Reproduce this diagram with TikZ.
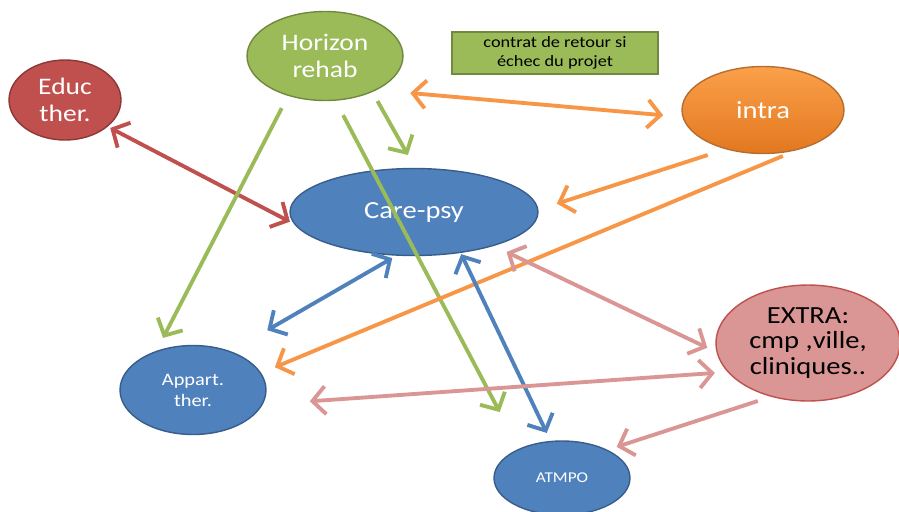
\documentclass[tikz,border=0pt]{standalone}
\usepackage{fontspec}
\setmainfont{Carlito}[FakeStretch=1.16]
\usepackage{tikz}
\usetikzlibrary{arrows.meta,shapes.geometric}
\definecolor{rehabgreen}{HTML}{9BBB59}
\definecolor{rehabline}{HTML}{71893F}
\definecolor{educred}{HTML}{C0504D}
\definecolor{educline}{HTML}{8C3836}
\definecolor{careblue}{HTML}{4F81BD}
\definecolor{careline}{HTML}{385D8A}
\definecolor{intratop}{HTML}{FBA04A}
\definecolor{intrabot}{HTML}{E2781F}
\definecolor{intraline}{HTML}{B66D31}
\definecolor{intraorange}{HTML}{F79646}
\definecolor{extrapink}{HTML}{D99694}
\definecolor{extraline}{HTML}{C0504D}

\begin{document}
\begin{tikzpicture}[x=0.02cm, y=-0.02cm,
  blob/.style={ellipse, draw, line width=0.8pt, inner sep=0pt, outer sep=0pt,
    align=center, text=white},
  link/.style={line width=2.2pt,
    {Straight Barb[length=2.6mm,width=5.6mm]}-{Straight Barb[length=2.6mm,width=5.6mm]}},
  tolink/.style={line width=2.2pt, -{Straight Barb[length=2.6mm,width=5.6mm]}},
]
  \useasboundingbox (0,0) rectangle (899,511);

  \node[blob, fill=rehabgreen, draw=rehabline, minimum width=3.12cm, minimum height=1.78cm,
    font=\fontsize{13.5}{15.5}\selectfont] (horizon) at (325,56) {Horizon\\rehab};
  \node[blob, fill=educred, draw=educline, minimum width=2.24cm, minimum height=1.6cm,
    font=\fontsize{13.5}{15.5}\selectfont] (educ) at (65,100) {Educ\\ther.};
  \node[blob, fill=careblue, draw=careline, minimum width=4.96cm, minimum height=1.74cm,
    font=\fontsize{14}{16}\selectfont] (care) at (414,212) {Care-psy};
  \node[rectangle, draw=rehabline, line width=0.8pt, fill=rehabgreen, minimum width=4.12cm,
    minimum height=0.84cm, inner sep=0pt, align=center, font=\fontsize{9}{11}\selectfont]
    (contrat) at (555,53) {contrat de retour si\\échec du projet};
  \node[blob, top color=intratop, bottom color=intrabot, draw=intraline, minimum width=3.24cm,
    minimum height=1.74cm, font=\fontsize{14}{16}\selectfont] (intra) at (763,110) {intra};
  \node[blob, fill=careblue, draw=careline, minimum width=2.92cm, minimum height=1.78cm,
    font=\fontsize{10}{12}\selectfont] (appart) at (193,390) {Appart.\\ther.};
  \node[blob, fill=extrapink, draw=extraline, text=black, minimum width=3.68cm,
    minimum height=2.32cm, font=\fontsize{14}{14.5}\selectfont] (extra) at (808,343)
    {EXTRA:\\cmp ,ville,\\cliniques..};
  \node[blob, fill=careblue, draw=careline, minimum width=2.72cm, minimum height=1.48cm,
    font=\fontsize{8.5}{10}\selectfont] (atmpo) at (562,478) {ATMPO};

  \draw[link, educred, shorten <=0.07cm, shorten >=0.12cm] (educ.-32) -- (care.186);
  \draw[tolink, rehabgreen, shorten <=0.29cm, shorten >=0.31cm] (horizon.227) -- (appart.134);
  \draw[tolink, rehabgreen, shorten <=0.34cm, shorten >=0.84cm] (horizon.-77) -- (atmpo.146);
  \draw[tolink, rehabgreen, shorten <=0.22cm, shorten >=0.31cm] (horizon.-37) -- (care.88);
  \draw[link, intraorange, shorten <=0.7cm, shorten >=0.4cm] (horizon.-34) -- (intra.185);
  \draw[tolink, intraorange, shorten <=0.4cm, shorten >=0.4cm] (intra.227) -- (care.1);
  \draw[tolink, intraorange, shorten <=0.4cm, shorten >=0.31cm] (intra.-45) -- (appart.14);
  \draw[link, careblue, shorten <=0.12cm, shorten >=0.86cm] (care.249) -- (appart.46);
  \draw[link, careblue, shorten <=0.04cm, shorten >=0.19cm] (care.-41) -- (atmpo.107);
  \draw[link, extrapink, shorten <=0.3cm, shorten >=0.22cm] (care.-23) -- (extra.186);
  \draw[link, extrapink, shorten <=0.96cm, shorten >=0.27cm] (appart.-12) -- (extra.200);
  \draw[tolink, extrapink, shorten <=0.3cm, shorten >=0.21cm] (extra.236) -- (atmpo.32);
\end{tikzpicture}
\end{document}
